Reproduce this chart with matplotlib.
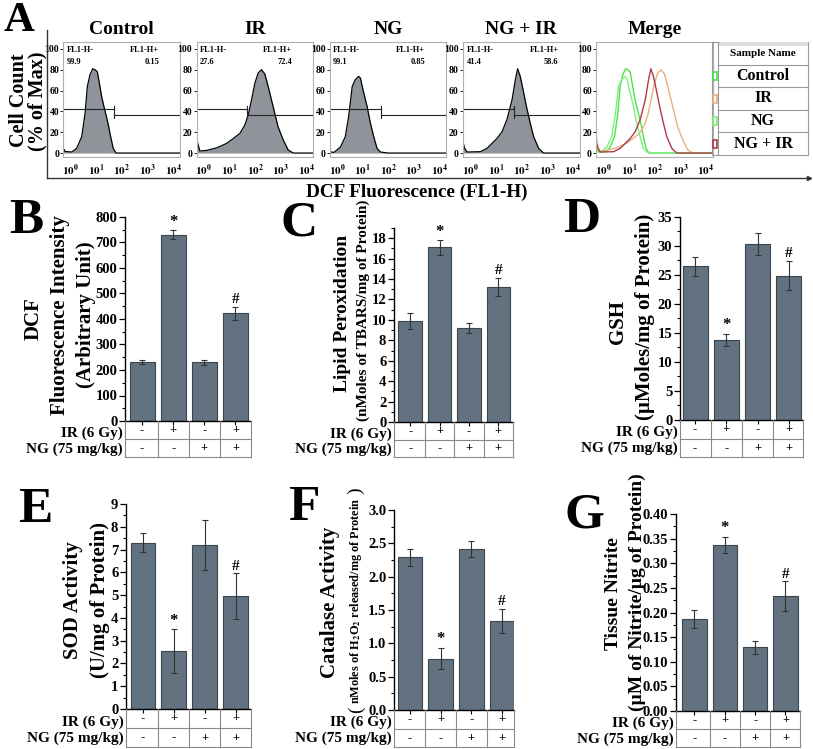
import matplotlib
matplotlib.use('Agg')
import matplotlib.pyplot as plt
from matplotlib.ticker import MultipleLocator, AutoMinorLocator, FormatStrFormatter
from matplotlib.patches import Rectangle
import numpy as np

plt.rcParams['font.family'] = ['Liberation Serif', 'DejaVu Serif']
plt.rcParams['font.weight'] = 'bold'
plt.rcParams['mathtext.fontset'] = 'stix'

# ---------------- data ----------------
groups = ['Control', 'IR', 'NG', 'NG + IR']
ir_row = ['-', '+', '-', '+']
ng_row = ['-', '-', '+', '+']
sig = ['', '*', '', '#']

dcf_mean = [232, 730, 230, 422]
dcf_err = [8, 18, 10, 25]
lpo_mean = [9.9, 17.1, 9.2, 13.2]
lpo_err = [0.8, 0.7, 0.5, 0.9]
gsh_mean = [26.5, 13.8, 30.4, 24.9]
gsh_err = [1.6, 1.0, 1.9, 2.5]
sod_mean = [7.3, 2.55, 7.2, 4.95]
sod_err = [0.42, 0.95, 1.1, 1.0]
cat_mean = [2.29, 0.77, 2.41, 1.34]
cat_err = [0.13, 0.16, 0.12, 0.18]
nit_mean = [0.187, 0.337, 0.129, 0.233]
nit_err = [0.019, 0.017, 0.014, 0.030]

# flow histograms: log10(FL1-H) vs % of max
ctrl_x = [-0.3, -0.22, 0.04, 0.23, 0.43, 0.56, 0.65, 0.75, 0.86, 0.95, 1.04, 1.12, 1.21, 1.30, 1.38, 1.47, 1.56, 1.66, 1.77, 4.27]
ctrl_y = [5, 1.5, 1, 4.5, 15.7, 38, 64, 75, 81, 80, 78, 67, 54, 44.5, 36.5, 27, 15.7, 4.5, 0, 0]
ir_x = [-0.3, -0.25, -0.16, 0.1, 0.5, 0.89, 1.15, 1.41, 1.6, 1.73, 1.86, 1.99, 2.12, 2.25, 2.38, 2.51, 2.64, 2.77, 2.90, 3.1, 3.29, 3.49, 4.27]
ir_y = [22, 10, 2, 2.5, 5, 9.3, 14, 19, 27, 36.5, 51, 67, 77, 80, 76, 64, 51, 38, 25, 12.5, 3, 0, 0]
ng_x = [-0.3, -0.26, -0.13, 0.13, 0.32, 0.45, 0.59, 0.71, 0.84, 0.91, 1.04, 1.17, 1.30, 1.43, 1.56, 1.69, 2.0, 4.27]
ng_y = [3, 1.3, 0.5, 5.8, 15.7, 35, 64, 70.5, 73.7, 72, 57.7, 44.9, 28.8, 15.7, 4.5, 1, 0, 0]
nir_x = [-0.3, -0.23, -0.13, 0.39, 0.65, 0.85, 1.04, 1.24, 1.43, 1.63, 1.76, 1.85, 1.95, 2.06, 2.19, 2.34, 2.47, 2.67, 2.86, 4.27]
nir_y = [12, 5, 1, 1.3, 4.5, 9.3, 14, 20.5, 32, 51, 70.5, 81, 73.7, 61, 45, 28.8, 16, 4.5, 0, 0]
neg_pct = ['99.9', '27.6', '99.1', '41.4']
pos_pct = ['0.15', '72.4', '0.85', '58.6']
gate_log = 1.7
merge_colors = ['#4fe04f', '#e6b27e', '#7cf07c', '#b03a48']

# ---------------- figure ----------------
W, H = 813, 749
fig = plt.figure(figsize=(W / 100, H / 100), dpi=100)


def add_ax(l, t, r, b):
    return fig.add_axes([l / W, 1 - b / H, (r - l) / W, (b - t) / H])


ov = add_ax(0, 0, W, H)
ov.set_xlim(0, W)
ov.set_ylim(H, 0)
ov.axis('off')
ov.set_zorder(10)
ov.patch.set_visible(False)

BAR = '#627280'
EDGE = '#3a464e'
FILL = '#8e9499'
TICK_FS = 10.5

# ---------------- panel A ----------------
ov.text(19, 21, 'A', fontsize=31, ha='center', va='center')
ov.plot([47, 47], [30, 178], color='#333333', lw=1.0)
ov.plot([47, 808], [178, 178], color='#333333', lw=1.0)
ov.plot([809], [178], marker='>', ms=3, color='#333333')
ov.text(19, 100, 'Cell Count', rotation=90, fontsize=14.5, ha='center', va='center')
ov.text(37.5, 101, '(% of Max)', rotation=90, fontsize=14.5, ha='center', va='center')
ov.text(417, 192, 'DCF Fluorescence (FL1-H)', fontsize=13.8, ha='center', va='center')

hists = [(ctrl_x, ctrl_y), (ir_x, ir_y), (ng_x, ng_y), (nir_x, nir_y)]
titles = groups + ['Merge']
for i in range(5):
    l = 63.3 + i * 133.2
    ax = add_ax(l, 42, l + 116.7, 157)
    ax.set_xlim(-0.29, 4.27)
    ax.set_ylim(-3.8, 106.7)
    for s in ax.spines.values():
        s.set_color('#b0b0b0')
        s.set_linewidth(0.8)
    ax.set_yticks([0, 20, 40, 60, 80, 100])
    ax.set_xticks([0, 1, 2, 3, 4])
    ax.set_xticklabels([r'$\mathbf{10^{%d}}$' % k for k in range(5)])
    ax.tick_params(axis='y', labelsize=7, length=2, width=0.6, pad=1)
    ax.tick_params(axis='x', labelsize=8, length=0, pad=4)
    ov.text(l + 58.3, 30, titles[i], fontsize=14, ha='center', va='center')
    if i < 4:
        hx, hy = hists[i]
        ax.fill_between(hx, hy, 0, color=FILL, lw=0)
        ax.plot(hx, hy, color='black', lw=0.9)
        ax.plot([-0.29, gate_log], [42, 42], color='#222222', lw=0.8)
        ax.plot([gate_log, 4.27], [37, 37], color='#222222', lw=0.8)
        ax.plot([gate_log, gate_log], [34, 45], color='#222222', lw=0.8)
        ax.text(0.03, 0.93, 'FL1-H-', transform=ax.transAxes, fontsize=6, va='center')
        ax.text(0.03, 0.83, neg_pct[i], transform=ax.transAxes, fontsize=6, va='center')
        ax.text(0.82, 0.93, 'FL1-H+', transform=ax.transAxes, fontsize=6, va='center', ha='right')
        ax.text(0.82, 0.83, pos_pct[i], transform=ax.transAxes, fontsize=6, va='center', ha='right')
    else:
        for (hx, hy), c in zip(hists, merge_colors):
            ax.plot(hx, hy, color=c, lw=1.0)

# legend table for merge
tl, tm, tr = 712, 718, 808
rows_y = [42, 65, 87, 110, 132, 155]
ov.add_patch(Rectangle((tl, 42), tr - tl, 113, fill=False, ec='#999999', lw=0.8))
ov.add_patch(Rectangle((tm, 42), tr - tm, 4, color='#dddddd', lw=0))
ov.plot([tm, tm], [42, 155], color='#999999', lw=0.8)
for yy in rows_y[1:-1]:
    ov.plot([tm, tr], [yy, yy], color='#999999', lw=0.8)
ov.text((tm + tr) / 2, 54, 'Sample Name', fontsize=8, ha='center', va='center')
for k, name in enumerate(groups):
    yc = (rows_y[k + 1] + rows_y[k + 2]) / 2
    ov.text((tm + tr) / 2, yc, name, fontsize=11.5, ha='center', va='center')
    ov.add_patch(Rectangle((713, yc - 4), 4, 8, fill=False, ec=merge_colors[k], lw=1.2))


# ---------------- bar panels ----------------
def bar_panel(box, table_bottom, ymax, major, fmt, means, errs, xl=(-0.55, 3.5)):
    l, t, r, b = box
    ax = add_ax(l, t, r, b)
    x = np.arange(4)
    ax.bar(x, means, width=0.8, color=BAR, edgecolor=EDGE, lw=0.8, zorder=2)
    ax.errorbar(x, means, yerr=errs, fmt='none', ecolor='#333333', elinewidth=0.8,
                capsize=2.5, capthick=0.8, zorder=3)
    ax.set_xlim(*xl)
    ax.set_ylim(0, ymax)
    for s in ['top', 'right']:
        ax.spines[s].set_visible(False)
    for s in ['left', 'bottom']:
        ax.spines[s].set_linewidth(1.0)
    ax.yaxis.set_major_locator(MultipleLocator(major))
    ax.yaxis.set_minor_locator(AutoMinorLocator(2))
    ax.yaxis.set_major_formatter(FormatStrFormatter(fmt))
    ax.tick_params(axis='y', which='major', labelsize=TICK_FS, length=4, width=0.9, pad=1.5)
    ax.tick_params(axis='y', which='minor', length=2, width=0.8)
    ax.set_xticks(x)
    ax.set_xticklabels([])
    ax.tick_params(axis='x', length=3, width=0.8)
    for xi, m, e, s in zip(x, means, errs, sig):
        if s:
            ax.annotate(s, (xi, m + e), xytext=(0, 0.5), textcoords='offset points',
                        ha='center', va='bottom', fontsize=12 if s == '*' else 11)
    # treatment table
    tab = add_ax(l, b, r, table_bottom)
    tab.set_xlim(*xl)
    tab.set_ylim(2, 0)
    tab.axis('off')
    tc = '#888888'
    for yy in [1, 2]:
        tab.plot(xl, [yy, yy], color=tc, lw=0.8, clip_on=False)
    for xx in [xl[0], 0.5, 1.5, 2.5, xl[1]]:
        tab.plot([xx, xx], [0, 2], color=tc, lw=0.8, clip_on=False)
    for xi in x:
        tab.text(xi, 0.5, ir_row[xi], ha='center', va='center', fontsize=9)
        tab.text(xi, 1.5, ng_row[xi], ha='center', va='center', fontsize=9)
    rh = (table_bottom - b) / 2
    ov.text(l - 2, b + rh * 0.68, 'IR (6 Gy)', ha='right', va='center', fontsize=11)
    ov.text(l - 2, b + rh * 1.55, 'NG (75 mg/kg)', ha='right', va='center', fontsize=11)
    return ax


bar_panel((125, 217, 251, 421), 457, 800, 100, '%d', dcf_mean, dcf_err)
bar_panel((394, 228, 513, 422), 457, 19, 2, '%d', lpo_mean, lpo_err)
bar_panel((680, 217, 803, 420), 457, 35, 5, '%d', gsh_mean, gsh_err, xl=(-0.48, 3.45))
bar_panel((126, 504, 251, 709), 747, 9, 1, '%d', sod_mean, sod_err)
bar_panel((394, 510, 514, 710), 747, 3.0, 0.5, '%.1f', cat_mean, cat_err, xl=(-0.52, 3.39))
bar_panel((676, 514, 800, 711), 747, 0.40, 0.05, '%.2f', nit_mean, nit_err, xl=(-0.61, 3.48))

# panel letters
for letter, (px, py) in zip('BCDEFG', [(26, 221), (299, 223), (582, 220), (35, 510), (304, 508), (584, 515)]):
    ov.text(px, py, letter, fontsize=37, ha='center', va='center')


# y labels
def ylab(x, y, s, fs, **kw):
    ov.text(x, y, s, rotation=90, fontsize=fs, ha='center', va='center', **kw)


ylab(34, 319, 'DCF', 15)
ylab(60, 315, 'Fluorescence Intensity', 15)
ylab(86, 315, '(Arbitrary Unit)', 15)
ylab(342, 313, 'Lipid Peroxidation', 14)
ylab(363, 310, '(nMoles of TBARS/mg of Protein)', 11)
ylab(618, 322, 'GSH', 15)
ylab(645, 317, '(µMoles/mg of Protein)', 15)
ylab(73, 600, 'SOD Activity', 15)
ylab(100, 600, '(U/mg of Protein)', 15)
ylab(330, 602, 'Catalase Activity', 15)
ylab(356, 601, r'nMoles of H$_\mathbf{2}$O$_\mathbf{2}$ released/mg of Protein', 8.8)
ylab(356, 710, '(', 14, fontweight='normal')
ylab(356, 491, ')', 14, fontweight='normal')
ylab(613, 594, 'Tissue Nitrite', 14)
ylab(637, 592, '(µM of Nitrite/µg of Protein)', 14)

fig.savefig('out.png', dpi=100)
